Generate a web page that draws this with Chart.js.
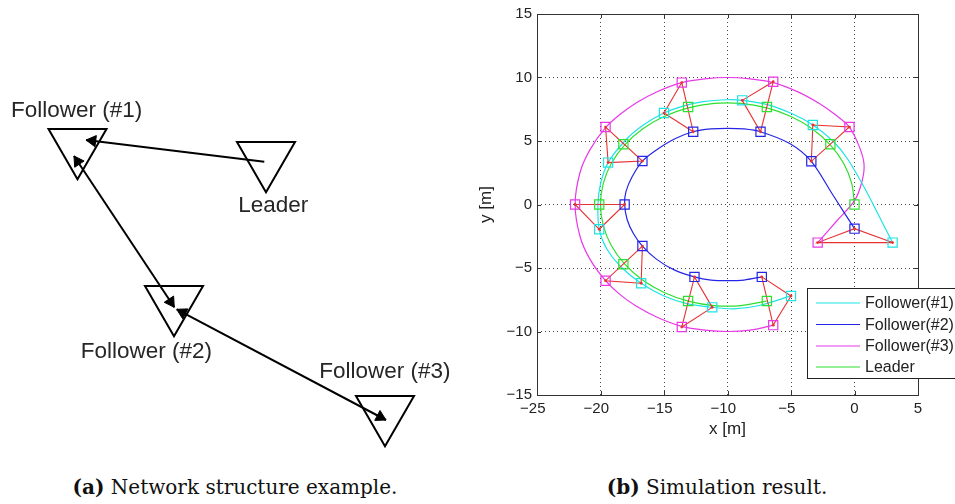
<!DOCTYPE html>
<html><head><meta charset="utf-8">
<script src="https://cdn.jsdelivr.net/npm/chart.js@4.4.1/dist/chart.umd.min.js"></script>
<style>
html,body{margin:0;padding:0;background:#fff;}
#wrap{position:relative;width:955px;height:504px;overflow:hidden;background:#fff;}
#left{position:absolute;left:0;top:0;}
#right{position:absolute;left:470px;top:0;}
.cap{position:absolute;top:475px;font-family:"DejaVu Serif",serif;font-size:20px;line-height:24px;color:#111;white-space:nowrap;text-align:center;}
</style></head><body>
<div id="wrap">
<canvas id="left" width="470" height="460" style="width:470px;height:460px"></canvas>
<canvas id="right" width="485" height="460" style="width:485px;height:460px"></canvas>
<div class="cap" style="left:0;width:470px;"><b>(a)</b> Network structure example.</div>
<div class="cap" style="left:470px;width:494px;"><b>(b)</b> Simulation result.</div>
</div>
<script>
// ================= (a) network diagram data (diagram units) =================
const nodeNames = ['Leader', 'Follower (#1)', 'Follower (#2)', 'Follower (#3)'];
const nodeX = [266, 77.5, 174, 385];
const nodeY = [158.7, 145.7, 302.7, 412.7];
const edgeFromX = [264.3, 74, 176.7];
const edgeFromY = [161.7, 156, 309.3];
const edgeToX = [86, 174.3, 386];
const edgeToY = [140, 307.3, 420];
const headAtFrom = [false, true, true];
const headAtTo = [true, true, true];

// ================= (b) simulation result data =================
const seriesNames = ['Follower(#1)', 'Follower(#2)', 'Follower(#3)', 'Leader'];
const xTickValues = [-25, -20, -15, -10, -5, 0, 5];
const yTickValues = [-15, -10, -5, 0, 5, 10, 15];

// trajectories
const f1PathX = [3.0, 2.0, 0.92, -0.53, -1.7, -3.28, -4.9, -6.8, -8.84, -10.0, -11.9, -13.5, -15.0, -16.6, -18.0, -19.4, -20.0, -20.2, -20.1, -19.5, -18.4, -16.8, -15.0, -13.2, -11.2, -9.5, -7.5, -5.0];
const f1PathY = [-3.0, -1.05, 1.06, 3.56, 5.0, 6.26, 7.14, 7.85, 8.2, 8.25, 8.1, 7.75, 7.2, 6.28, 5.1, 3.3, 1.63, 0.0, -1.95, -3.5, -4.9, -6.2, -7.2, -7.8, -8.1, -8.22, -7.95, -7.2];
const f2PathX = [0, -1.7, -3.4, -5.1, -7.4, -8.7, -10.0, -11.3, -12.7, -14.1, -15.6, -16.7, -17.5, -18.0, -18.1, -17.9, -17.4, -16.7, -15.6, -14.2, -12.6, -11.3, -10.0, -8.7, -7.3];
const f2PathY = [-1.9, 0.75, 3.4, 4.8, 5.73, 5.95, 6.0, 5.95, 5.73, 5.2, 4.3, 3.42, 2.2, 1.0, 0, -1.2, -2.3, -3.27, -4.3, -5.15, -5.7, -5.95, -6.0, -5.95, -5.7];
const f3PathX = [-2.9, -1.4, 0.0, 0.6, 0.75, 0.4, -0.4, -1.5, -2.8, -4.5, -6.4, -8.2, -10.0, -11.8, -13.6, -15.5, -17.2, -18.5, -19.6, -20.8, -21.6, -22.0, -21.6, -20.8, -19.6, -18.5, -17.2, -15.5, -13.6, -11.8, -10.0, -8.2, -6.4];
const f3PathY = [-3.0, -1.3, 0.3, 1.85, 3.2, 4.5, 6.1, 7.06, 7.97, 8.89, 9.6, 9.89, 10.0, 9.89, 9.6, 8.9, 8.0, 7.06, 6.05, 4.36, 2.56, 0, -2.56, -4.36, -6.0, -7.06, -8.0, -8.9, -9.6, -9.89, -10.0, -9.89, -9.5];
const leaderPathX = [0, -0.22, -0.86, -1.91, -3.31, -5.0, -6.91, -8.95, -11.05, -13.09, -15.0, -16.69, -18.09, -19.14, -19.78, -20.0, -19.78, -19.14, -18.09, -16.69, -15.0, -13.09, -11.05, -8.95, -6.91];
const leaderPathY = [0, 1.66, 3.25, 4.70, 5.95, 6.93, 7.61, 7.96, 7.96, 7.61, 6.93, 5.95, 4.70, 3.25, 1.66, 0, -1.66, -3.25, -4.70, -5.95, -6.93, -7.61, -7.96, -7.96, -7.61];

// sampled positions (markers) at each time step
const f1MarkX = [3.0, -3.28, -8.84, -15.0, -19.4, -20.1, -16.8, -11.2, -5.0];
const f1MarkY = [-3.0, 6.26, 8.2, 7.2, 3.3, -1.95, -6.2, -8.1, -7.2];
const f2MarkX = [0, -3.4, -7.4, -12.7, -16.7, -18.1, -16.7, -12.6, -7.3];
const f2MarkY = [-1.9, 3.4, 5.73, 5.73, 3.42, 0, -3.27, -5.7, -5.7];
const f3MarkX = [-2.9, -0.4, -6.4, -13.6, -19.6, -22.0, -19.6, -13.6, -6.4];
const f3MarkY = [-3.0, 6.1, 9.67, 9.6, 6.1, 0, -6.0, -9.65, -9.5];
const leaderMarkX = [0, -1.9, -6.9, -13.1, -18.2, -20.1, -18.2, -13.1, -6.9];
const leaderMarkY = [0, 4.74, 7.68, 7.68, 4.74, 0, -4.7, -7.6, -7.6];

// ---------------------------------------------------------------
const zip = (xs, ys) => xs.map((x, i) => ({x: x, y: ys[i]}));

// ===== left chart =====
const HEAD_R = 6.5;
const heads = [];
for (let i = 0; i < edgeFromX.length; i++) {
  const dx = edgeToX[i] - edgeFromX[i], dy = edgeToY[i] - edgeFromY[i];
  const L = Math.hypot(dx, dy), ux = dx / L, uy = dy / L;
  if (headAtTo[i]) heads.push({x: edgeToX[i] - ux * HEAD_R, y: edgeToY[i] - uy * HEAD_R, rot: Math.atan2(ux, -uy) * 180 / Math.PI});
  if (headAtFrom[i]) heads.push({x: edgeFromX[i] + ux * HEAD_R, y: edgeFromY[i] + uy * HEAD_R, rot: Math.atan2(-ux, uy) * 180 / Math.PI});
}
const leftDatasets = [];
for (let i = 0; i < edgeFromX.length; i++) {
  leftDatasets.push({
    data: [{x: edgeFromX[i], y: edgeFromY[i]}, {x: edgeToX[i], y: edgeToY[i]}],
    showLine: true, borderColor: '#000', borderWidth: 2, pointRadius: 0, order: 2, clip: false
  });
}
leftDatasets.push({
  data: heads.map(h => ({x: h.x, y: h.y})),
  showLine: false, pointStyle: 'triangle', pointRadius: HEAD_R,
  pointRotation: heads.map(h => h.rot),
  pointBackgroundColor: '#000', pointBorderColor: '#000', pointBorderWidth: 1, order: 1, clip: false
});
leftDatasets.push({
  data: zip(nodeX, nodeY),
  showLine: false, pointStyle: 'triangle', pointRadius: 33.5, pointRotation: 180,
  pointBackgroundColor: 'rgba(0,0,0,0)', pointBorderColor: '#000', pointBorderWidth: 2, order: 0, clip: false
});

const labelPos = [[238.3, 211.5], [11, 116.5], [80.7, 357.5], [319.3, 378]];
const nodeLabelPlugin = {
  id: 'nodeLabels',
  afterDraw(chart) {
    const ctx = chart.ctx;
    ctx.save();
    ctx.font = '22.5px "Liberation Sans", Arial, sans-serif';
    ctx.fillStyle = '#262626';
    ctx.textAlign = 'left';
    ctx.textBaseline = 'alphabetic';
    nodeNames.forEach((n, i) => ctx.fillText(n, labelPos[i][0], labelPos[i][1]));
    ctx.restore();
  }
};

new Chart(document.getElementById('left'), {
  type: 'scatter',
  data: {datasets: leftDatasets},
  options: {
    responsive: false, animation: false, devicePixelRatio: 1, events: [],
    layout: {padding: 0, autoPadding: false},
    plugins: {legend: {display: false}, tooltip: {enabled: false}},
    scales: {
      x: {type: 'linear', min: 0, max: 470, display: false},
      y: {type: 'linear', min: 0, max: 460, reverse: true, display: false}
    }
  },
  plugins: [nodeLabelPlugin]
});

// ===== right chart =====
const colF1 = '#1ee3e3', colF2 = '#2525e6', colF3 = '#e838e8', colL = '#2ee02e', colR = '#e83232';
const pathX = [f1PathX, f2PathX, f3PathX, leaderPathX];
const pathY = [f1PathY, f2PathY, f3PathY, leaderPathY];
const markX = [f1MarkX, f2MarkX, f3MarkX, leaderMarkX];
const markY = [f1MarkY, f2MarkY, f3MarkY, leaderMarkY];
const cols = [colF1, colF2, colF3, colL];

const rightDatasets = [];
for (let s = 0; s < 4; s++) {
  rightDatasets.push({
    label: seriesNames[s], data: zip(pathX[s], pathY[s]), showLine: true,
    borderColor: cols[s], borderWidth: 1.2, pointRadius: 0, tension: 0.3, fill: false, order: 3
  });
}
for (let t = 0; t < f1MarkX.length; t++) {
  rightDatasets.push({
    label: '_net' + t,
    data: [{x: f1MarkX[t], y: f1MarkY[t]}, {x: f3MarkX[t], y: f3MarkY[t]}, {x: f2MarkX[t], y: f2MarkY[t]}, {x: f1MarkX[t], y: f1MarkY[t]}],
    showLine: true, borderColor: colR, borderWidth: 1.1, tension: 0,
    pointRadius: [1.4, 1.4, 1.4, 0], pointBackgroundColor: colR, pointBorderWidth: 0, order: 2
  });
}
for (let s = 0; s < 4; s++) {
  rightDatasets.push({
    label: '_m' + s, data: zip(markX[s], markY[s]), showLine: false,
    pointStyle: 'rect', pointRadius: 6.5, pointBorderColor: cols[s],
    pointBackgroundColor: 'rgba(0,0,0,0)', pointBorderWidth: 1.2, order: 1
  });
}

const minusFmt = v => (v < 0 ? '\u2212' + Math.abs(v) : String(v));
const tickFont = {family: '"Liberation Sans", Arial, sans-serif', size: 15};

const boxLegendPlugin = {
  id: 'boxLegend',
  afterDraw(chart) {
    const ctx = chart.ctx, a = chart.chartArea;
    const xs = chart.scales.x, ys = chart.scales.y;
    ctx.save();
    // axes box
    ctx.strokeStyle = '#333'; ctx.lineWidth = 1; ctx.setLineDash([]);
    ctx.strokeRect(Math.round(a.left) + 0.5, Math.round(a.top) + 0.5, Math.round(a.right - a.left), Math.round(a.bottom - a.top));
    // inner tick marks
    ctx.beginPath();
    xTickValues.forEach(v => {
      const p = Math.round(xs.getPixelForValue(v)) + 0.5;
      ctx.moveTo(p, a.bottom); ctx.lineTo(p, a.bottom - 4);
      ctx.moveTo(p, a.top); ctx.lineTo(p, a.top + 4);
    });
    yTickValues.forEach(v => {
      const p = Math.round(ys.getPixelForValue(v)) + 0.5;
      ctx.moveTo(a.left, p); ctx.lineTo(a.left + 4, p);
      ctx.moveTo(a.right, p); ctx.lineTo(a.right - 4, p);
    });
    ctx.stroke();
    // legend
    const lx = 337.5, ly = 288.5, lw = 160, lh = 90;
    ctx.fillStyle = '#fff';
    ctx.fillRect(lx, ly, lw, lh);
    ctx.strokeStyle = '#222';
    ctx.strokeRect(lx, ly, lw, lh);
    ctx.font = '16px "Liberation Sans", Arial, sans-serif';
    ctx.textBaseline = 'middle'; ctx.textAlign = 'left';
    const rows = [303, 324.5, 346, 367];
    for (let s = 0; s < 4; s++) {
      const ds = chart.data.datasets[s];
      ctx.strokeStyle = ds.borderColor; ctx.lineWidth = 1.2;
      ctx.beginPath(); ctx.moveTo(346, rows[s]); ctx.lineTo(390, rows[s]); ctx.stroke();
      ctx.fillStyle = '#222';
      ctx.fillText(ds.label, 395, rows[s] + 1);
    }
    ctx.restore();
  }
};

new Chart(document.getElementById('right'), {
  type: 'scatter',
  data: {datasets: rightDatasets},
  options: {
    responsive: false, animation: false, devicePixelRatio: 1, events: [],
    layout: {padding: {top: 12, right: 37, bottom: 20, left: 0}},
    plugins: {legend: {display: false}, tooltip: {enabled: false}},
    scales: {
      x: {
        type: 'linear', min: -25, max: 5,
        afterBuildTicks: s => { s.ticks = xTickValues.map(v => ({value: v})); },
        afterFit: s => { s.height = 45; },
        ticks: {autoSkip: false, maxRotation: 0, padding: 5, color: '#222', font: tickFont,
                callback: v => (v < 0 ? minusFmt(v) + '\u2007' : String(v))},
        grid: {color: 'rgba(40,40,40,0.85)', lineWidth: 1, drawTicks: false},
        border: {display: false, dash: [1, 3]},
        title: {display: true, text: 'x [m]', color: '#222', padding: {top: 0, bottom: 0},
                font: {family: '"Liberation Sans", Arial, sans-serif', size: 17}}
      },
      y: {
        type: 'linear', min: -15, max: 15,
        afterBuildTicks: s => { s.ticks = yTickValues.map(v => ({value: v})); },
        afterFit: s => { s.width = 67; },
        ticks: {autoSkip: false, padding: 5, color: '#222', font: tickFont, callback: v => minusFmt(v)},
        grid: {color: 'rgba(40,40,40,0.85)', lineWidth: 1, drawTicks: false},
        border: {display: false, dash: [1, 3]},
        title: {display: true, text: 'y [m]', color: '#222', padding: {top: 6, bottom: 0},
                font: {family: '"Liberation Sans", Arial, sans-serif', size: 17}}
      }
    }
  },
  plugins: [boxLegendPlugin]
});
</script>
</body></html>
